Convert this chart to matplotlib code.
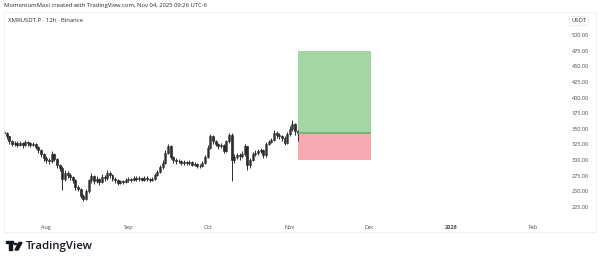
import numpy as np
import matplotlib.pyplot as plt
from matplotlib.patches import Rectangle, Polygon, Circle

plt.rcParams['font.family'] = ['Open Sans', 'DejaVu Sans']

# daily candles, day 0 = Aug 1 2025 (first candle Jul 16)
first_day = -16
first_open = 345
close = [343, 338, 330, 326, 328, 325, 327, 324, 329, 327, 325, 326, 321, 316, 310, 303,
         300, 298, 310, 302, 292, 287, 270, 280, 276, 273, 268, 257, 254, 243, 238, 250,
         268, 275, 266, 270, 265, 273, 271, 280, 276, 270, 268, 264, 266, 265, 268,
         270, 268, 272, 270, 271, 269, 272, 270, 268, 270, 276, 281, 289, 296, 312, 322,
         305, 300, 298, 299, 296, 297, 295, 297, 293, 294, 290, 291, 296, 305,
         320, 338, 330, 326, 322, 324, 315, 330, 340, 300, 305, 308, 306, 310, 322, 292,
         300, 310, 312, 314, 316, 308, 326, 329, 332, 344, 340, 338, 336, 328, 342,
         350, 358, 347, 344]
high = [348, 345, 339, 333, 331, 330, 330, 329, 333, 331, 329, 329, 328, 323, 318, 312,
        306, 303, 315, 311, 304, 294, 290, 284, 282, 279, 275, 270, 260, 256, 246, 254,
        270, 280, 276, 274, 272, 278, 276, 284, 282, 278, 273, 270, 269, 268, 271,
        273, 272, 275, 274, 274, 273, 275, 274, 272, 273, 279, 284, 292, 300, 316, 326,
        324, 307, 303, 302, 301, 300, 299, 300, 298, 297, 295, 294, 299, 308,
        324, 342, 340, 333, 328, 328, 326, 333, 344, 343, 310, 312, 311, 314, 326, 323,
        304, 313, 316, 318, 320, 318, 329, 332, 336, 348, 346, 343, 341, 338, 345,
        354, 364, 360, 349]
low = [340, 334, 326, 322, 323, 321, 322, 320, 322, 323, 321, 322, 318, 312, 305, 299,
       296, 294, 296, 298, 288, 282, 252, 266, 272, 268, 264, 252, 250, 240, 234, 236,
       248, 264, 262, 263, 261, 263, 267, 269, 272, 266, 264, 260, 262, 262, 263,
       265, 265, 266, 267, 267, 266, 267, 267, 265, 266, 268, 274, 279, 286, 294, 310,
       302, 296, 294, 295, 293, 293, 292, 293, 290, 290, 287, 288, 289, 294,
       303, 318, 326, 322, 318, 319, 312, 313, 328, 266, 296, 302, 301, 303, 307, 284,
       288, 298, 307, 309, 311, 304, 305, 324, 327, 330, 336, 334, 331, 324, 326,
       338, 347, 340, 331]

# long position tool
pos_start, pos_end = 95.0, 122.5
entry, target, stop = 344, 475, 300

month_days = [0, 31, 61, 92, 122, 153, 184]
month_labels = ['Aug', 'Sep', 'Oct', 'Nov', 'Dec', '2026', 'Feb']
price_ticks = [225, 250, 275, 300, 325, 350, 375, 400, 425, 450, 475, 500]

W, H = 600, 262
fig = plt.figure(figsize=(6, 2.62), dpi=100)
fig.patch.set_facecolor('white')

# outer panel
fig.patches.append(Rectangle((4 / W, 1 - 232 / H), 592 / W, 220 / H, transform=fig.transFigure,
                             fill=False, edgecolor='#eceef2', lw=0.6))

ax = fig.add_axes([4 / W, 1 - 217 / H, 561 / W, 205 / H])
days = np.arange(first_day, first_day + len(close))
opens = np.array([first_open] + close[:-1])
closes = np.array(close)
up = closes >= opens
ax.vlines(days, low, high, color='#2e2e2e', lw=0.7)
ax.bar(days[up], (closes - opens)[up], bottom=opens[up], width=0.75, color='#7a7a7a', edgecolor='#2e2e2e', lw=0.4)
ax.bar(days[~up], (closes - opens)[~up], bottom=opens[~up], width=0.75, color='#161616', edgecolor='#161616', lw=0.4)

ax.add_patch(Rectangle((pos_start, entry), pos_end - pos_start, target - entry, color='#a3d6a5', lw=0))
ax.add_patch(Rectangle((pos_start, stop), pos_end - pos_start, entry - stop, color='#f7a8b0', lw=0))
ax.hlines(entry, pos_start, pos_end, color='#6fae72', lw=1.2)

ax.set_xlim(-16.0, 196)
ax.set_ylim(209, 537)
ax.set_xticks(month_days)
ax.set_xticklabels(month_labels)
for lbl in ax.get_xticklabels():
    lbl.set_fontweight('bold' if lbl.get_text() == '2026' else 'normal')
ax.set_yticks(price_ticks)
ax.set_yticklabels([f'{p:.2f}' for p in price_ticks])
ax.yaxis.tick_right()
ax.tick_params(axis='both', length=0, labelsize=4, colors='#4a4a4a')
ax.tick_params(axis='y', pad=5)
ax.tick_params(axis='x', pad=6)
for s in ax.spines.values():
    s.set_visible(False)

fig.text(4 / W, 1 - 6 / H, 'MomentumMaxi created with TradingView.com, Nov 04, 2025 09:26 UTC-6',
         fontsize=4.2, va='center', color='#2a2a2a')
fig.text(8 / W, 1 - 21 / H, 'XMRUSDT.P · 12h · Binance', fontsize=4.3, va='center', color='#2a2a2a')
fig.text(579 / W, 1 - 21 / H, 'USDT', fontsize=4.3, va='center', ha='center', color='#2a2a2a',
         bbox=dict(boxstyle='round,pad=0.35', fc='white', ec='#e6e8ee', lw=0.5))

# TradingView logo + name
lx, ly = 6, 246
fig.patches.append(Rectangle((lx / W, 1 - (ly - 3) / H), 7 / W, 2.4 / H, transform=fig.transFigure, color='#131722'))
fig.patches.append(Rectangle(((lx + 3) / W, 1 - (ly + 4) / H), 2.6 / W, 7 / H, transform=fig.transFigure, color='#131722'))
fig.patches.append(Circle(((lx + 9.5) / W, 1 - (ly - 2) / H), 1.3 / W, transform=fig.transFigure, color='#131722'))
fig.patches.append(Polygon([((lx + 13) / W, 1 - (ly - 3.5) / H), ((lx + 16) / W, 1 - (ly - 3.5) / H),
                            ((lx + 12) / W, 1 - (ly + 4) / H), ((lx + 9) / W, 1 - (ly + 4) / H)],
                           closed=True, transform=fig.transFigure, color='#131722'))
fig.text((lx + 20) / W, 1 - ly / H, 'TradingView', fontsize=8.2, fontweight='semibold', va='center', color='#131722')

fig.savefig('out.png', dpi=100, facecolor='white')
